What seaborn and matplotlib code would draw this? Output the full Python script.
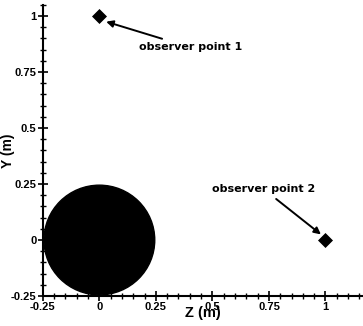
import matplotlib
matplotlib.use("Agg")
import matplotlib.pyplot as plt
from matplotlib.patches import Circle
from matplotlib.ticker import MultipleLocator
import seaborn as sns
import pandas as pd

# data
obs_z = [0.0, 1.0]
obs_y = [1.0, 0.0]
obs_labels = ["observer point 1", "observer point 2"]
body_center = (0.0, 0.0)
body_radius = 0.245
xticks = [-0.25, 0, 0.25, 0.5, 0.75, 1]
xticklabels = ["-0.25", "0", "0.25", "0.5", "0.75", "1"]
yticks = [-0.25, 0, 0.25, 0.5, 0.75, 1]
yticklabels = ["-0.25", "0", "0.25", "0.5", "0.75", "1"]

sns.set_style("ticks")
plt.rcParams['font.family'] = ['Liberation Sans', 'DejaVu Sans']
plt.rcParams['font.weight'] = 'bold'
plt.rcParams['text.color'] = 'black'
plt.rcParams['axes.labelcolor'] = 'black'
plt.rcParams['xtick.color'] = 'black'
plt.rcParams['ytick.color'] = 'black'

fig = plt.figure(figsize=(3.63, 3.26), dpi=100)
ax = fig.add_axes([0.118, 0.092, 0.882, 0.893])

ax.add_patch(Circle(body_center, body_radius, color='black', zorder=1))

df = pd.DataFrame({"z": obs_z, "y": obs_y})
sns.scatterplot(data=df, x="z", y="y", marker="D", s=50, color="black",
                edgecolor="black", ax=ax, zorder=3)

ann_font = dict(family='DejaVu Sans', size=8, weight='heavy')
ax.annotate(obs_labels[0], xy=(0.03, 0.975), xytext=(0.175, 0.86),
            fontproperties=None, **{'fontfamily': 'DejaVu Sans', 'fontsize': 8,
                                    'fontweight': 'heavy'},
            va='center', ha='left', color='black',
            arrowprops=dict(arrowstyle='-|>', color='black', lw=1.4,
                            shrinkA=1, shrinkB=0, mutation_scale=10))
ax.annotate(obs_labels[1], xy=(0.98, 0.025), xytext=(0.726, 0.228),
            fontfamily='DejaVu Sans', fontsize=8, fontweight='heavy',
            va='center', ha='center', color='black',
            arrowprops=dict(arrowstyle='-|>', color='black', lw=1.4,
                            shrinkA=2, shrinkB=0, mutation_scale=10))

ax.set_xlim(-0.25, 1.166)
ax.set_ylim(-0.25, 1.05)
ax.set_xticks(xticks)
ax.set_xticklabels(xticklabels)
ax.set_yticks(yticks)
ax.set_yticklabels(yticklabels)
ax.xaxis.set_minor_locator(MultipleLocator(0.05))
ax.yaxis.set_minor_locator(MultipleLocator(0.05))
ax.tick_params(which='major', direction='inout', length=7, width=1.2,
               labelsize=8, pad=1, colors='black')
ax.tick_params(which='minor', direction='inout', length=4, width=1)
for lab in ax.get_xticklabels() + ax.get_yticklabels():
    lab.set_fontweight('bold')

for s in ['top', 'right']:
    ax.spines[s].set_visible(False)
for s in ['left', 'bottom']:
    ax.spines[s].set_linewidth(1.5)
    ax.spines[s].set_color('black')

ax.set_xlabel("Z (m)", fontsize=10.5, fontweight='bold')
ax.set_ylabel("Y (m)", fontsize=10, fontweight='bold')
ax.xaxis.set_label_coords(0.5, -0.035)
ax.xaxis.label.set_va('top')
ax.yaxis.set_label_coords(-0.088, 0.5)

fig.savefig("out.png", dpi=100, facecolor='white')
